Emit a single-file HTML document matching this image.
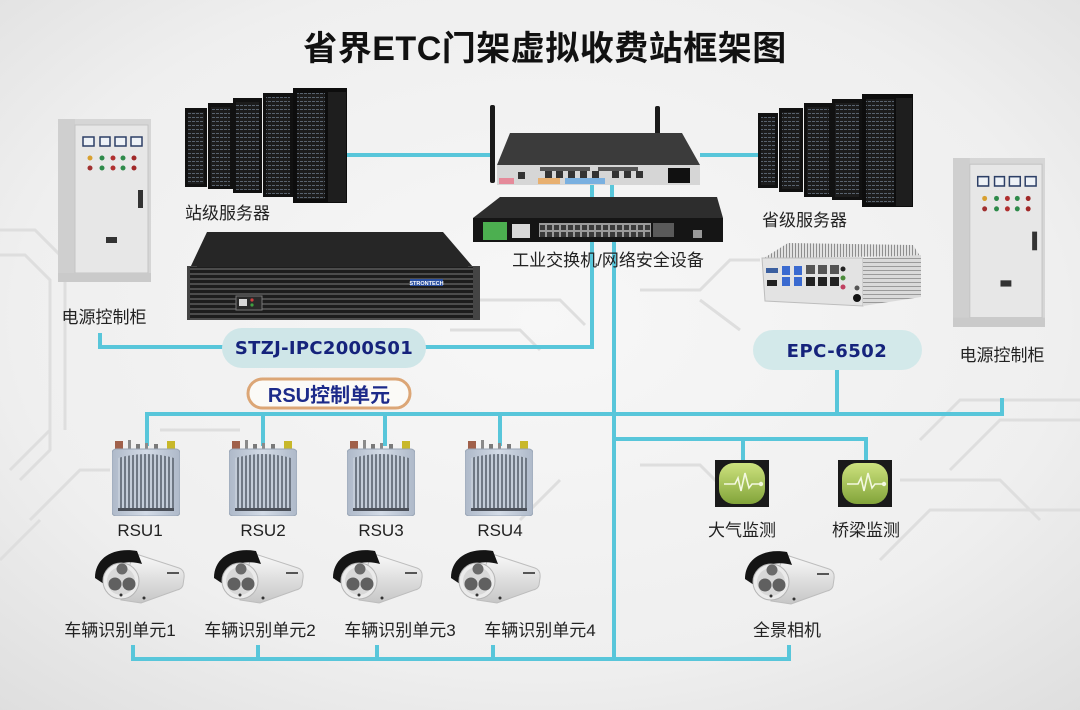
<!DOCTYPE html>
<html><head><meta charset="utf-8">
<style>
html,body{margin:0;padding:0;width:1080px;height:710px;overflow:hidden;background:#eee}
svg{display:block}
text{font-family:"Liberation Sans","Noto Sans CJK SC",sans-serif}
.lb{font-size:17px;fill:#222}
</style></head><body>
<svg width="1080" height="710" viewBox="0 0 1080 710" xmlns="http://www.w3.org/2000/svg">
<defs>
<radialGradient id="bg" cx="0.5" cy="0.45" r="0.75">
<stop offset="0" stop-color="#f7f7f7"/><stop offset="0.65" stop-color="#efefef"/><stop offset="1" stop-color="#dedede"/>
</radialGradient>
<pattern id="grillR" width="4" height="4" patternUnits="userSpaceOnUse"><rect width="4" height="4" fill="#1c1c1c"/><rect y="1" width="3" height="1" fill="#58626e"/></pattern>
<pattern id="stz" width="10" height="5" patternUnits="userSpaceOnUse"><rect width="10" height="5" fill="#1d1d1d"/><rect y="3" width="10" height="2" fill="#4c4c4c"/></pattern>
<pattern id="fins" width="4" height="10" patternUnits="userSpaceOnUse"><rect width="4" height="10" fill="#c3ccd8"/><rect width="2" height="10" fill="#6f7884"/></pattern>
<pattern id="hfins" width="10" height="4" patternUnits="userSpaceOnUse"><rect width="10" height="4" fill="#dadada"/><rect y="2" width="10" height="1" fill="#9a9a9a"/></pattern>
<pattern id="vfins" width="3" height="10" patternUnits="userSpaceOnUse"><rect width="3" height="10" fill="#e2e2e2"/><rect width="1" height="10" fill="#8e8e8e"/></pattern>
<pattern id="ports" width="7" height="7" patternUnits="userSpaceOnUse"><rect width="7" height="7" fill="#9a9a9a"/><rect x="1" y="1" width="5" height="5" fill="#3a3a3a"/></pattern>
<linearGradient id="mon" x1="0" y1="0" x2="0" y2="1"><stop offset="0" stop-color="#cde27e"/><stop offset="1" stop-color="#82a43a"/></linearGradient>
<linearGradient id="camb" x1="0" y1="0" x2="0" y2="1"><stop offset="0" stop-color="#fafafa"/><stop offset="1" stop-color="#c6c6c6"/></linearGradient>
<linearGradient id="rsuB" x1="0" y1="0" x2="1" y2="0"><stop offset="0" stop-color="#aeb9c9"/><stop offset="0.5" stop-color="#d3dbe6"/><stop offset="1" stop-color="#aeb9c9"/></linearGradient>

<symbol id="cab" viewBox="0 0 93 163" width="93" height="163" preserveAspectRatio="none">
<rect x="0" y="0" width="93" height="163" fill="#d6d6d6"/>
<rect x="0" y="0" width="17" height="163" fill="#cfcfcf"/>
<rect x="17" y="6" width="73" height="148" fill="#e7e7e7" stroke="#c4c4c4"/>
<rect x="0" y="154" width="93" height="9" fill="#cacaca"/>
<g fill="#eef2f7" stroke="#2d3f66" stroke-width="1.5">
<rect x="25" y="18" width="11" height="9"/><rect x="42" y="18" width="10" height="9"/><rect x="57" y="18" width="11" height="9"/><rect x="73" y="18" width="11" height="9"/>
</g>
<circle cx="32" cy="39" r="2.5" fill="#d8a030"/><circle cx="44" cy="39" r="2.5" fill="#2e8a4a"/><circle cx="55" cy="39" r="2.5" fill="#b03030"/><circle cx="65" cy="39" r="2.5" fill="#2e8a4a"/><circle cx="76" cy="39" r="2.5" fill="#a02828"/>
<circle cx="32" cy="49" r="2.5" fill="#a03030"/><circle cx="44" cy="49" r="2.5" fill="#2e8a4a"/><circle cx="55" cy="49" r="2.5" fill="#b03030"/><circle cx="65" cy="49" r="2.5" fill="#2e8a4a"/><circle cx="76" cy="49" r="2.5" fill="#a02828"/>
<rect x="80" y="71" width="5" height="18" fill="#333"/>
<rect x="48" y="118" width="11" height="6" fill="#333"/>
</symbol>

<symbol id="rsu" viewBox="0 0 68 76" width="68" height="76">
<rect x="3" y="1" width="8" height="9" fill="#a0604a"/>
<rect x="16" y="0" width="3" height="10" fill="#8a8a8a"/><rect x="24" y="4" width="4" height="6" fill="#7a7a7a"/>
<rect x="33" y="3" width="3" height="7" fill="#8a8a8a"/><rect x="42" y="4" width="4" height="6" fill="#7a7a7a"/>
<rect x="55" y="1" width="8" height="9" fill="#c8b82a"/>
<rect x="0" y="9" width="68" height="67" rx="4" fill="url(#rsuB)" stroke="#9aa6b6"/>
<path d="M6 18 Q34 10 62 18 V70 H6 Z" fill="url(#fins)"/>
<rect x="6" y="68" width="56" height="3" fill="#4a4f58"/>
</symbol>

<symbol id="cam" viewBox="0 0 90 57" width="90" height="57">
<path d="M38 5 L84 20 Q90 22 89 30 L88 37 Q87 41 82 42 L46 55 L26 52 Z" fill="url(#camb)" stroke="#bdbdbd"/>
<path d="M0 30 C0 10 18 -1 42 3 L47 16 C30 11 14 16 9 36 Z" fill="#141414"/>
<circle cx="26" cy="33" r="18" fill="#ebebeb" stroke="#b5b5b5"/>
<circle cx="26" cy="33" r="14" fill="#d8d8d8"/>
<circle cx="27" cy="21" r="5.5" fill="#6a6a6a"/>
<circle cx="20" cy="36" r="6.5" fill="#606060"/>
<circle cx="34" cy="36" r="6.5" fill="#606060"/>
<circle cx="26" cy="47" r="1.5" fill="#333"/>
<circle cx="49" cy="50" r="1.5" fill="#333"/>
<rect x="72" y="24" width="12" height="2" fill="#555"/>
</symbol>

<symbol id="monI" viewBox="0 0 54 47" width="54" height="47">
<rect x="0" y="0" width="54" height="47" fill="#1a1a1a"/>
<rect x="4" y="3" width="46" height="41" rx="15" fill="url(#mon)"/>
<polyline points="9,24 20,24 23,18 26,31 30,13 34,28 37,24 46,24" fill="none" stroke="#f3f8e0" stroke-width="1.6"/>
<circle cx="46" cy="24" r="2.2" fill="#f3f8e0"/>
</symbol>
</defs>

<rect width="1080" height="710" fill="url(#bg)"/>

<!-- faint circuit traces -->
<g fill="none" stroke="#dedede" stroke-width="3">
<path d="M0 230 H35 L65 260 V430"/><path d="M0 255 H25 L50 280 V450 L20 480"/>
<path d="M10 470 L50 430"/><path d="M30 520 L80 470 H110"/>
<path d="M430 300 H560 L585 325"/><path d="M640 290 H700 L730 260 H760"/>
<path d="M920 440 L960 400 H1080"/><path d="M950 470 L1000 420 H1080"/>
<path d="M640 465 H700 L720 485"/><path d="M900 480 H1000 L1040 520"/>
<path d="M160 430 H240"/><path d="M520 520 L560 480"/>
<path d="M880 560 L930 510 H1080"/><path d="M0 560 L40 520"/>
<path d="M700 300 L740 330"/><path d="M450 330 H520 L540 350"/>
</g>

<!-- title -->
<text x="545" y="60" text-anchor="middle" font-size="34" font-weight="bold" fill="#111" letter-spacing="0.5">省界ETC门架虚拟收费站框架图</text>

<!-- connectors -->
<g fill="none" stroke="#58c6da" stroke-width="4">
<path d="M347 155 H495"/>
<path d="M700 155 H758"/>
<path d="M592 185 V198"/><path d="M612 185 V198"/>
<path d="M592 242 V347 H100 V333"/>
<path d="M614 242 V659"/>
<path d="M147 446 V414 H1002 V398"/>
<path d="M263 414 V446"/><path d="M385 414 V446"/><path d="M500 414 V446"/>
<path d="M837 368 V414"/>
<path d="M614 439 H866 V460"/><path d="M743 439 V460"/>
<path d="M133 645 V659 H789 V645"/><path d="M258 645 V659"/><path d="M377 645 V659"/><path d="M493 645 V659"/>
</g>

<!-- power cabinets -->
<use href="#cab" x="58" y="119" width="93" height="163"/>
<use href="#cab" x="953" y="158" width="92" height="169"/>

<!-- station servers -->
<g>
<rect x="185" y="108" width="22" height="79" fill="#111"/><rect x="188" y="112" width="16" height="72" fill="url(#grillR)"/>
<rect x="208" y="103" width="25" height="86" fill="#111"/><rect x="211" y="107" width="19" height="79" fill="url(#grillR)"/>
<rect x="233" y="98" width="29" height="95" fill="#111"/><rect x="236" y="102" width="23" height="88" fill="url(#grillR)"/>
<rect x="263" y="93" width="30" height="104" fill="#111"/><rect x="266" y="97" width="24" height="97" fill="url(#grillR)"/>
<rect x="293" y="88" width="54" height="115" fill="#0d0d0d"/><rect x="297" y="93" width="28" height="106" fill="url(#grillR)"/><rect x="328" y="92" width="18" height="110" fill="#1e1e1e"/>
</g>
<!-- provincial servers -->
<g>
<rect x="758" y="113" width="20" height="75" fill="#111"/><rect x="761" y="117" width="14" height="68" fill="url(#grillR)"/>
<rect x="779" y="108" width="24" height="84" fill="#111"/><rect x="782" y="112" width="18" height="77" fill="url(#grillR)"/>
<rect x="804" y="103" width="28" height="94" fill="#111"/><rect x="807" y="107" width="22" height="87" fill="url(#grillR)"/>
<rect x="832" y="99" width="30" height="101" fill="#111"/><rect x="835" y="103" width="24" height="94" fill="url(#grillR)"/>
<rect x="862" y="94" width="51" height="113" fill="#0d0d0d"/><rect x="866" y="99" width="28" height="104" fill="url(#grillR)"/><rect x="896" y="98" width="16" height="108" fill="#1e1e1e"/>
</g>

<!-- router -->
<rect x="490" y="105" width="5" height="78" rx="2" fill="#1a1a1a"/>
<rect x="655" y="106" width="5" height="77" rx="2" fill="#1a1a1a"/>
<polygon points="510,133 682,133 700,165 497,165" fill="#3b3b3b"/>
<rect x="497" y="165" width="203" height="20" fill="#d6d6d6"/>
<rect x="499" y="178" width="15" height="6" fill="#e58a9a"/>
<rect x="538" y="178" width="22" height="6" fill="#e8b070"/>
<rect x="565" y="178" width="40" height="6" fill="#7ab0e0"/>
<g fill="#333"><rect x="518" y="172" width="7" height="7"/><rect x="545" y="171" width="7" height="7"/><rect x="556" y="171" width="7" height="7"/><rect x="568" y="171" width="7" height="7"/><rect x="580" y="171" width="7" height="7"/><rect x="592" y="171" width="7" height="7"/><rect x="612" y="171" width="7" height="7"/><rect x="624" y="171" width="7" height="7"/><rect x="636" y="171" width="7" height="7"/></g>
<rect x="540" y="167" width="50" height="4" fill="#555"/><rect x="598" y="167" width="40" height="4" fill="#555"/>
<rect x="668" y="168" width="22" height="15" fill="#111"/>

<!-- switch -->
<polygon points="500,197 717,197 723,218 473,218" fill="#2d2d2d"/>
<rect x="473" y="218" width="250" height="24" fill="#151515"/>
<rect x="483" y="222" width="24" height="18" fill="#4caf50"/>
<rect x="512" y="224" width="18" height="14" fill="#d9d9d9"/>
<rect x="539" y="223" width="112" height="14" fill="url(#ports)"/>
<rect x="653" y="223" width="21" height="14" fill="#5a5a5a"/>
<rect x="693" y="230" width="9" height="8" fill="#999"/>
<text x="608" y="266" text-anchor="middle" class="lb">工业交换机/网络安全设备</text>

<!-- STZJ chassis -->
<polygon points="207,232 443,232 473,267 190,268" fill="#262626"/>
<rect x="187" y="266" width="10" height="54" fill="#444"/>
<rect x="468" y="266" width="12" height="54" fill="#444"/>
<rect x="190" y="267" width="283" height="53" fill="url(#stz)"/>
<rect x="410" y="279" width="33" height="7" fill="#2a4fa0"/>
<text x="426.5" y="285" text-anchor="middle" font-size="5.5" fill="#fff" font-weight="bold">STRONTECH</text>
<rect x="236" y="296" width="26" height="14" fill="#2a2a2a" stroke="#777"/>
<rect x="239" y="299" width="8" height="7" fill="#d8d8d8"/>
<circle cx="252" cy="300" r="1.6" fill="#d04040"/><circle cx="252" cy="305" r="1.6" fill="#40a040"/>

<!-- EPC device -->
<polygon points="788,243 913,245 920,256 764,258" fill="url(#vfins)"/>
<polygon points="762,258 863,258 863,306 765,301" fill="#e3e3e3" stroke="#bdbdbd"/>
<polygon points="863,258 921,255 921,297 863,306" fill="url(#hfins)"/>
<rect x="766" y="268" width="12" height="5" fill="#3a5fa0"/>
<rect x="767" y="280" width="10" height="6" fill="#222"/>
<rect x="782" y="266" width="8" height="9" fill="#3a6ad0"/><rect x="794" y="266" width="8" height="9" fill="#3a6ad0"/>
<rect x="782" y="277" width="8" height="9" fill="#3a6ad0"/><rect x="794" y="277" width="8" height="9" fill="#3a6ad0"/>
<rect x="806" y="265" width="9" height="9" fill="#555"/><rect x="818" y="265" width="9" height="9" fill="#555"/><rect x="830" y="265" width="9" height="9" fill="#555"/>
<rect x="806" y="277" width="9" height="9" fill="#222"/><rect x="818" y="277" width="9" height="9" fill="#222"/><rect x="830" y="277" width="9" height="9" fill="#222"/>
<circle cx="843" cy="269" r="2.5" fill="#222"/><circle cx="843" cy="278" r="2.5" fill="#4a8a3a"/><circle cx="843" cy="287" r="2.5" fill="#c04060"/>
<circle cx="857" cy="288" r="2.5" fill="#555"/><circle cx="857" cy="298" r="4" fill="#111"/>

<!-- pills -->
<rect x="222" y="328" width="204" height="40" rx="20" fill="#cfe6e8"/>
<text x="324" y="354" text-anchor="middle" font-weight="bold" font-size="18" fill="#15237c" letter-spacing="0.3" style="font-family:'DejaVu Sans',sans-serif">STZJ-IPC2000S01</text>
<rect x="753" y="330" width="169" height="40" rx="20" fill="#d3e9ea"/>
<text x="837" y="357" text-anchor="middle" font-weight="bold" font-size="18" fill="#15237c" letter-spacing="0.5" style="font-family:'DejaVu Sans',sans-serif">EPC-6502</text>
<rect x="248" y="379" width="162" height="29" rx="14.5" fill="#fbfaf7" stroke="#dca676" stroke-width="3"/>
<text x="329" y="402" text-anchor="middle" font-weight="bold" font-size="20" fill="#1c2a8a">RSU控制单元</text>

<!-- labels top -->
<text x="185" y="219" class="lb">站级服务器</text>
<text x="104" y="323" text-anchor="middle" class="lb">电源控制柜</text>
<text x="762" y="226" class="lb">省级服务器</text>
<text x="1002" y="361" text-anchor="middle" class="lb">电源控制柜</text>

<!-- RSUs -->
<use href="#rsu" x="112" y="440"/>
<use href="#rsu" x="229" y="440"/>
<use href="#rsu" x="347" y="440"/>
<use href="#rsu" x="465" y="440"/>
<text x="140" y="536" text-anchor="middle" class="lb">RSU1</text>
<text x="263" y="536" text-anchor="middle" class="lb">RSU2</text>
<text x="381" y="536" text-anchor="middle" class="lb">RSU3</text>
<text x="500" y="536" text-anchor="middle" class="lb">RSU4</text>

<!-- monitors -->
<use href="#monI" x="715" y="460"/>
<use href="#monI" x="838" y="460"/>
<text x="742" y="536" text-anchor="middle" class="lb">大气监测</text>
<text x="866" y="536" text-anchor="middle" class="lb">桥梁监测</text>

<!-- cameras -->
<use href="#cam" x="95" y="548"/>
<use href="#cam" x="214" y="548"/>
<use href="#cam" x="333" y="548"/>
<use href="#cam" x="451" y="548"/>
<use href="#cam" x="745" y="549"/>
<text x="120" y="636" text-anchor="middle" class="lb">车辆识别单元1</text>
<text x="260" y="636" text-anchor="middle" class="lb">车辆识别单元2</text>
<text x="400" y="636" text-anchor="middle" class="lb">车辆识别单元3</text>
<text x="540" y="636" text-anchor="middle" class="lb">车辆识别单元4</text>
<text x="787" y="636" text-anchor="middle" class="lb">全景相机</text>
</svg>
</body></html>
